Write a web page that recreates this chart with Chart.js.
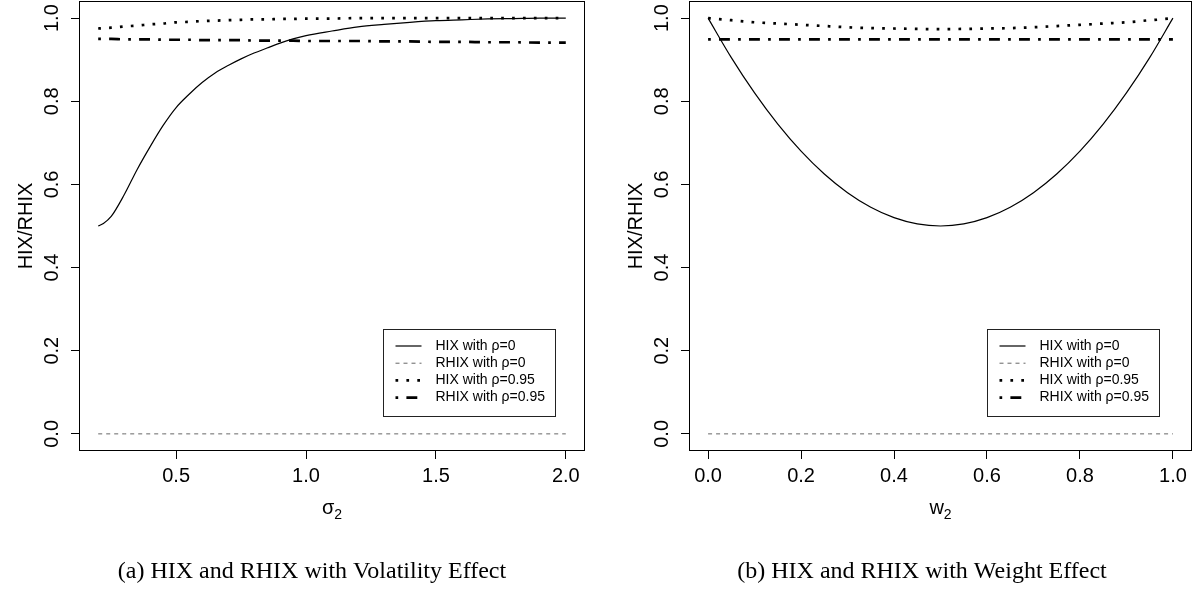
<!DOCTYPE html>
<html>
<head>
<meta charset="utf-8">
<script src="https://cdn.jsdelivr.net/npm/chart.js@4.4.0/dist/chart.umd.min.js"></script>
<style>
    html, body { margin: 0; padding: 0; background: #fff; }
    #wrap { position: relative; width: 1193px; height: 591px; overflow: hidden; }
    canvas { position: absolute; top: 0; }
    #chartVol { left: 0; }
    #chartWeight { left: 596px; }
</style>
</head>
<body>
<div id="wrap">
    <canvas id="chartVol" width="596" height="591"></canvas>
    <canvas id="chartWeight" width="597" height="591"></canvas>
</div>
<script>
// series names (same for both panels)
const seriesLabels = ['HIX with ρ=0', 'RHIX with ρ=0', 'HIX with ρ=0.95', 'RHIX with ρ=0.95'];

// panel (a): volatility effect
const sigma2 = [0.2, 0.22, 0.25, 0.3, 0.35, 0.4, 0.45, 0.5, 0.55, 0.6, 0.65, 0.7, 0.75, 0.8,
    0.85, 0.9, 0.95, 1.0, 1.1, 1.2, 1.3, 1.4, 1.5, 1.6, 1.7, 1.8, 1.9, 2.0];
const hixRho0Vol = [0.500, 0.506, 0.523, 0.575, 0.636, 0.691, 0.742, 0.785, 0.817, 0.845, 0.868, 0.886, 0.902, 0.916,
    0.928, 0.940, 0.950, 0.958, 0.969, 0.979, 0.985, 0.990, 0.994, 0.996, 0.998, 0.999, 1.000, 1.000];
const rhixRho0Vol = [0, 0, 0, 0, 0, 0, 0, 0, 0, 0, 0, 0, 0, 0,
    0, 0, 0, 0, 0, 0, 0, 0, 0, 0, 0, 0, 0, 0];
const hixRho95Vol = [0.975, 0.976, 0.977, 0.980, 0.982, 0.985, 0.987, 0.990, 0.991, 0.993, 0.994, 0.995, 0.996, 0.997,
    0.997, 0.998, 0.998, 0.999, 0.999, 1.000, 1.000, 1.000, 1.000, 1.000, 1.000, 1.000, 1.000, 1.000];
const rhixRho95Vol = [0.950, 0.950, 0.950, 0.949, 0.949, 0.949, 0.948, 0.948, 0.948, 0.947, 0.947, 0.947, 0.947, 0.946,
    0.946, 0.946, 0.946, 0.945, 0.945, 0.945, 0.944, 0.944, 0.943, 0.943, 0.942, 0.942, 0.941, 0.941];
const sigmaTicks = [0.5, 1.0, 1.5, 2.0];

// panel (b): weight effect
const w2 = [0, 0.05, 0.1, 0.15, 0.2, 0.25, 0.3, 0.35, 0.4, 0.45, 0.5,
    0.55, 0.6, 0.65, 0.7, 0.75, 0.8, 0.85, 0.9, 0.95, 1.0];
const hixRho0W = [1.000, 0.905, 0.820, 0.745, 0.680, 0.625, 0.580, 0.545, 0.520, 0.505, 0.500,
    0.505, 0.520, 0.545, 0.580, 0.625, 0.680, 0.745, 0.820, 0.905, 1.000];
const rhixRho0W = [0, 0, 0, 0, 0, 0, 0, 0, 0, 0, 0,
    0, 0, 0, 0, 0, 0, 0, 0, 0, 0];
const hixRho95W = [1.000, 0.995, 0.990, 0.987, 0.984, 0.981, 0.978, 0.976, 0.975, 0.974, 0.9735,
    0.974, 0.975, 0.976, 0.978, 0.981, 0.984, 0.987, 0.990, 0.995, 1.000];
const rhixRho95W = [0.949, 0.949, 0.949, 0.949, 0.949, 0.949, 0.949, 0.949, 0.949, 0.949, 0.949,
    0.949, 0.949, 0.949, 0.949, 0.949, 0.949, 0.949, 0.949, 0.949, 0.949];
const wTicks = [0.0, 0.2, 0.4, 0.6, 0.8, 1.0];

const yTicks = [0.0, 0.2, 0.4, 0.6, 0.8, 1.0];

const SANS = '"Liberation Sans", Arial, Helvetica, sans-serif';
const SERIF = '"Liberation Serif", "Times New Roman", serif';

// line looks, R style: solid, dashed, dotted, dot-dash
const lineStyles = [
    { color: '#000', width: 1.2, dash: [] },
    { color: '#666', width: 1, dash: [4, 4] },
    { color: '#000', width: 2.7, dash: [2.7, 8.2] },
    { color: '#000', width: 2.7, dash: [2.7, 8.2, 10.9, 8.2] }
];

function toPoints(xs, ys) {
    return xs.map((x, i) => ({ x: x, y: ys[i] }));
}

function buildDatasets(xs, seriesList) {
    return seriesList.map((ys, i) => ({
        label: seriesLabels[i],
        data: toPoints(xs, ys),
        showLine: true,
        borderColor: lineStyles[i].color,
        borderWidth: lineStyles[i].width,
        borderDash: lineStyles[i].dash,
        pointRadius: 0,
        cubicInterpolationMode: 'monotone',
        fill: false,
        order: 4 - i
    }));
}

// box, tick labels, axis titles, legend and caption like base R graphics
const rStylePlugin = {
    id: 'rStyle',
    afterDraw(chart, args, o) {
        const ctx = chart.ctx;
        const a = chart.chartArea;
        const xs = chart.scales.x;
        const ys = chart.scales.y;
        ctx.save();

        // plot box
        ctx.strokeStyle = '#000';
        ctx.lineWidth = 1;
        ctx.setLineDash([]);
        ctx.strokeRect(a.left, a.top, a.right - a.left, a.bottom - a.top);

        ctx.fillStyle = '#000';
        ctx.font = '20px ' + SANS;
        ctx.textAlign = 'center';
        ctx.textBaseline = 'alphabetic';

        // x tick labels
        o.xTicks.forEach(v => {
            ctx.fillText(v.toFixed(1), xs.getPixelForValue(v), a.bottom + 31.5);
        });

        // y tick labels, rotated
        o.yTicks.forEach(v => {
            ctx.save();
            ctx.translate(a.left - 21.5, ys.getPixelForValue(v));
            ctx.rotate(-Math.PI / 2);
            ctx.fillText(v.toFixed(1), 0, 0);
            ctx.restore();
        });

        // y title
        ctx.save();
        ctx.translate(a.left - 47.5, (a.top + a.bottom) / 2);
        ctx.rotate(-Math.PI / 2);
        ctx.fillText(o.yTitle, 0, 0);
        ctx.restore();

        // x title with subscript
        ctx.textAlign = 'left';
        ctx.font = '20px ' + SANS;
        const mainW = ctx.measureText(o.xTitle).width;
        ctx.font = '14px ' + SANS;
        const subW = ctx.measureText(o.xSub).width;
        const startX = (a.left + a.right) / 2 - (mainW + subW) / 2;
        ctx.font = '20px ' + SANS;
        ctx.fillText(o.xTitle, startX, a.bottom + 63);
        ctx.font = '14px ' + SANS;
        ctx.fillText(o.xSub, startX + mainW, a.bottom + 68);

        // legend
        const lg = o.legend;
        ctx.strokeStyle = '#222';
        ctx.lineWidth = 1;
        ctx.strokeRect(lg.x, lg.y, lg.w, lg.h);
        ctx.font = '14px ' + SANS;
        ctx.textBaseline = 'middle';
        chart.data.datasets.forEach((ds, i) => {
            const rowY = lg.y + 16.5 + i * 17.2;
            ctx.beginPath();
            ctx.strokeStyle = ds.borderColor;
            ctx.lineWidth = ds.borderWidth;
            ctx.setLineDash(ds.borderDash);
            ctx.lineCap = 'butt';
            ctx.moveTo(lg.x + 12, rowY);
            ctx.lineTo(lg.x + 38, rowY);
            ctx.stroke();
            ctx.setLineDash([]);
            ctx.fillStyle = '#000';
            ctx.fillText(ds.label, lg.x + 52, rowY);
        });

        // caption under the panel
        ctx.font = '24px ' + SERIF;
        ctx.textAlign = 'center';
        ctx.textBaseline = 'alphabetic';
        ctx.fillText(o.caption, o.captionX, 578);

        ctx.restore();
    }
};

function makeChart(id, cfg) {
    return new Chart(document.getElementById(id), {
        type: 'scatter',
        data: { datasets: buildDatasets(cfg.xValues, cfg.series) },
        options: {
            responsive: false,
            animation: false,
            devicePixelRatio: 1,
            layout: { padding: { left: 0, top: 1.5, right: cfg.padRight, bottom: 0 } },
            plugins: {
                legend: { display: false },
                tooltip: { enabled: false },
                rStyle: {
                    xTicks: cfg.xTicks,
                    yTicks: yTicks,
                    xTitle: cfg.xTitle,
                    xSub: '2',
                    yTitle: 'HIX/RHIX',
                    legend: cfg.legend,
                    caption: cfg.caption,
                    captionX: cfg.captionX
                }
            },
            scales: {
                x: {
                    type: 'linear',
                    min: cfg.xMin,
                    max: cfg.xMax,
                    ticks: { display: false },
                    grid: { drawOnChartArea: false, drawTicks: true, tickLength: 8.5, color: '#000', lineWidth: 1 },
                    border: { display: false },
                    afterBuildTicks: s => { s.ticks = cfg.xTicks.map(v => ({ value: v })); },
                    afterFit: s => { s.height = 140.5; }
                },
                y: {
                    type: 'linear',
                    min: -0.04,
                    max: 1.04,
                    ticks: { display: false },
                    grid: { drawOnChartArea: false, drawTicks: true, tickLength: 8.5, color: '#000', lineWidth: 1 },
                    border: { display: false },
                    afterBuildTicks: s => { s.ticks = yTicks.map(v => ({ value: v })); },
                    afterFit: s => { s.width = cfg.yWidth; }
                }
            }
        },
        plugins: [rStylePlugin]
    });
}

makeChart('chartVol', {
    xValues: sigma2,
    series: [hixRho0Vol, rhixRho0Vol, hixRho95Vol, rhixRho95Vol],
    xTicks: sigmaTicks,
    xMin: 0.128,
    xMax: 2.072,
    xTitle: 'σ',
    yWidth: 79.5,
    padRight: 11.5,
    legend: { x: 383.5, y: 329.5, w: 172, h: 87 },
    caption: '(a) HIX and RHIX with Volatility Effect',
    captionX: 312
});

makeChart('chartWeight', {
    xValues: w2,
    series: [hixRho0W, rhixRho0W, hixRho95W, rhixRho95W],
    xTicks: wTicks,
    xMin: -0.04,
    xMax: 1.04,
    xTitle: 'w',
    yWidth: 93.5,
    padRight: 1.5,
    legend: { x: 391.5, y: 329.5, w: 172, h: 87 },
    caption: '(b) HIX and RHIX with Weight Effect',
    captionX: 326
});
</script>
</body>
</html>
